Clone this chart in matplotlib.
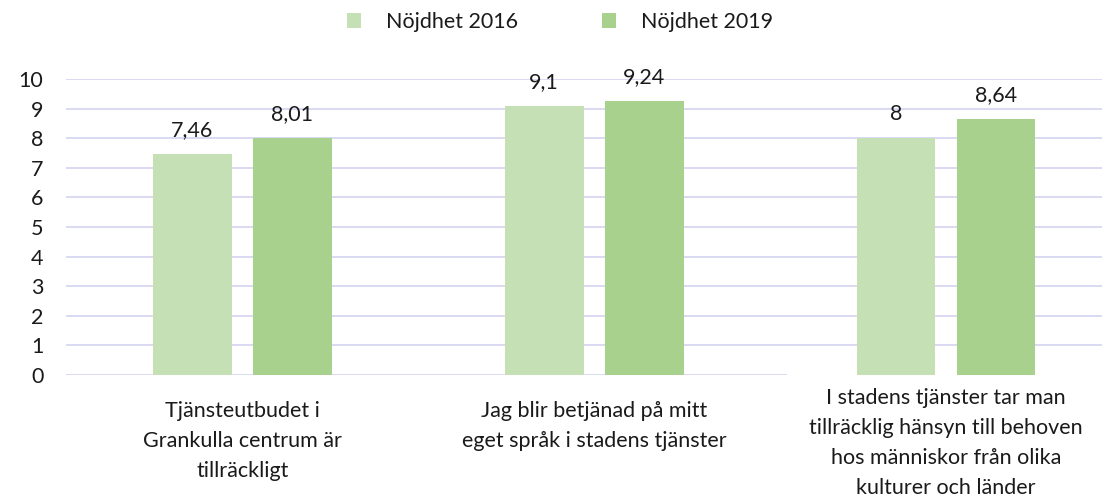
import matplotlib
matplotlib.use("Agg")
import matplotlib.pyplot as plt
import matplotlib.transforms as mtransforms
from matplotlib.patches import Patch
import numpy as np

# ── Data ──────────────────────────────────────────────────────────────────────
categories = [
    "Tjänsteutbudet i\nGrankulla centrum är\ntillräckligt",
    "Jag blir betjänad på mitt\neget språk i stadens tjänster",
    "I stadens tjänster tar man\ntillräcklig hänsyn till behoven\nhos människor från olika\nkulturer och länder",
]
series_names = ["Nöjdhet 2016", "Nöjdhet 2019"]
values_2016 = [7.46, 9.1, 8.0]
values_2019 = [8.01, 9.24, 8.64]
value_labels_2016 = ["7,46", "9,1", "8"]
value_labels_2019 = ["8,01", "9,24", "8,64"]
yticks = list(range(0, 11))

COL_2016 = "#C5E0B4"
COL_2019 = "#A9D18E"
GRID_COL = "#D9D9F2"
TEXT_COL = "#1a1a1a"

plt.rcParams["font.family"] = ["Lato", "DejaVu Sans"]
FS = 15.5

fig = plt.figure(figsize=(11.02, 4.95), dpi=100)
W, H = 1102, 495
# plot area runs a bit past the right edge, like the cropped original
ax = fig.add_axes([66.3 / W, (H - 375) / H, (1122 - 66.3) / W, 296 / H])

x = np.arange(len(categories))
bw = 0.224
off = 0.142
b1 = ax.bar(x - off, values_2016, width=bw, color=COL_2016, zorder=3)
b2 = ax.bar(x + off, values_2019, width=bw, color=COL_2019, zorder=3)

for bars, labels in ((b1, value_labels_2016), (b2, value_labels_2019)):
    for bar, lab in zip(bars, labels):
        ax.annotate(lab, (bar.get_x() + bar.get_width() / 2, bar.get_height()),
                    xytext=(0, 18), textcoords="offset pixels",
                    ha="center", va="baseline", fontsize=FS, color=TEXT_COL)

ax.set_xlim(-0.5, 2.5)
ax.set_ylim(0, 10)
ax.set_yticks(yticks)
ax.set_yticklabels([str(t) for t in yticks], fontsize=FS, color=TEXT_COL)
ax.tick_params(axis="y", length=0, pad=16.5)
ax.set_xticks([])
for s in ax.spines.values():
    s.set_visible(False)

# gridlines (the zero line is hidden under the third label in the original)
for t in yticks[1:]:
    ax.axhline(t, color=GRID_COL, linewidth=1.4, zorder=1)
ax.axhline(0, xmax=0.682, color=GRID_COL, linewidth=1.4, zorder=1)

# category labels
trans = mtransforms.blended_transform_factory(ax.transData, fig.transFigure)
label_tops = [1 - 401 / H, 1 - 401 / H, 1 - 388 / H]
for xi, cat, yt in zip(x, categories, label_tops):
    ax.text(xi, yt, cat, transform=trans, ha="center", va="top",
            multialignment="center", fontsize=FS, color=TEXT_COL,
            linespacing=1.62, clip_on=False)

handles = [Patch(facecolor=COL_2016, edgecolor="none"),
           Patch(facecolor=COL_2019, edgecolor="none")]
fig.legend(handles, series_names, loc="center", bbox_to_anchor=(560 / W, 1 - 22 / H),
           ncol=2, frameon=False, fontsize=FS, handlelength=0.65, handleheight=0.65,
           handletextpad=1.15, columnspacing=3.9, labelcolor=TEXT_COL)

fig.savefig("out.png", dpi=100)
